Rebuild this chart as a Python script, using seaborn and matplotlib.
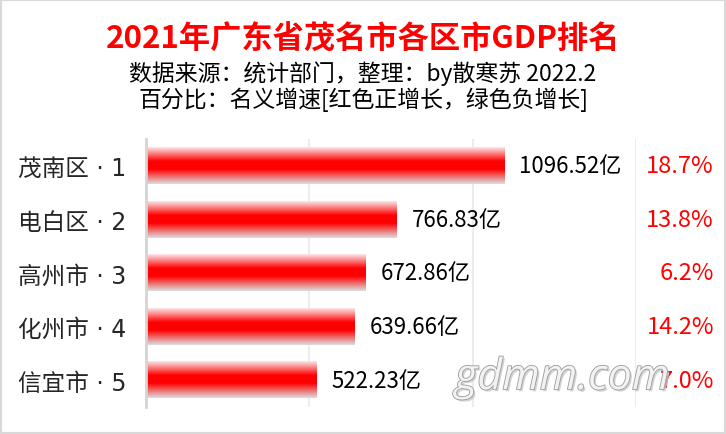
import numpy as np
import pandas as pd
import matplotlib
matplotlib.use('Agg')
import matplotlib.pyplot as plt
import matplotlib.patheffects as pe
from matplotlib.colors import LinearSegmentedColormap
from matplotlib.patches import Rectangle
import seaborn as sns

# data
regions = ['茂南区', '电白区', '高州市', '化州市', '信宜市']
ranks = [1, 2, 3, 4, 5]
gdp = [1096.52, 766.83, 672.86, 639.66, 522.23]
growth = [18.7, 13.8, 6.2, 14.2, 7.0]

title = '2021年广东省茂名市各区市GDP排名'
sub1 = '数据来源：统计部门，整理：by散寒苏 2022.2'
sub2 = '百分比：名义增速[红色正增长，绿色负增长]'

sns.set_style('white')
plt.rcParams['font.family'] = ['Noto Sans CJK SC', 'DejaVu Sans']

df = pd.DataFrame({'name': [f'{r} · {k}' for r, k in zip(regions, ranks)], 'gdp': gdp})

fig = plt.figure(figsize=(7.26, 4.35), dpi=100)
ax = fig.add_axes([146 / 726, 27 / 435, 490 / 726, 268 / 435])
sns.barplot(data=df, x='gdp', y='name', orient='h', width=0.68, color='red', ax=ax, zorder=2)

# vertical gradient on each bar: pink top, red core, greyish bottom
cmap = LinearSegmentedColormap.from_list('bar', [(0, '#fce4e6'), (0.38, '#ff0000'),
                                                 (0.6, '#ff0000'), (1, '#dcdcdc')])
grad = np.linspace(0, 1, 64).reshape(-1, 1)
for p in ax.patches:
    x0, y0, w, h = p.get_x(), p.get_y(), p.get_width(), p.get_height()
    p.set_visible(False)
    ax.imshow(grad, cmap=cmap, aspect='auto', origin='upper', interpolation='bilinear',
              extent=(x0, x0 + w, y0 + h, y0), zorder=2)

ax.set_xlim(0, 1500)
ax.set_ylim(4.5, -0.5)
ax.set_xticks([0, 500, 1000, 1500])
ax.set_xticklabels([])
ax.grid(axis='x', color='#ececec', lw=1.5, zorder=0)
ax.set_xlabel('')
ax.set_ylabel('')
ax.tick_params(axis='y', length=0, pad=14, labelsize=17)
for lab in ax.get_yticklabels():
    lab.set_family(['DejaVu Sans', 'Noto Sans CJK SC'])
for s in ['top', 'right', 'bottom']:
    ax.spines[s].set_visible(False)
ax.spines['left'].set_color('#d4d4d4')
ax.spines['left'].set_linewidth(2)

for i, v in enumerate(gdp):
    ax.annotate(f'{v:.2f}亿', (v, i), xytext=(11, 0), textcoords='offset points',
                ha='left', va='center', fontsize=16, color='black')

# watermark
fig.text(455 / 726, 0.103, 'gdmm.com', family='Open Sans', style='italic', fontsize=31,
         color='#f2f2f2', zorder=5,
         path_effects=[pe.withSimplePatchShadow(offset=(1.5, -1.5), shadow_rgbFace='#c8c8c8', alpha=0.8),
                       pe.Stroke(linewidth=1.2, foreground='#9a9a9a'), pe.Normal()])

trans = matplotlib.transforms.blended_transform_factory(fig.transFigure, ax.transData)
for i, g in enumerate(growth):
    ax.text(714 / 726, i, f'{g:.1f}%', transform=trans, ha='right', va='center',
            fontsize=17, color='red' if g >= 0 else 'green', zorder=10)

fig.text(0.5, 0.908, title, ha='center', va='center', fontsize=22.5, fontweight='bold', color='red')
fig.text(0.5, 0.830, sub1, ha='center', va='center', fontsize=16.5, color='black')
fig.text(0.5, 0.770, sub2, ha='center', va='center', fontsize=16.5, color='black')

fig.patches.append(Rectangle((0, 0), 1, 1, transform=fig.transFigure, fill=False,
                             edgecolor='#d9d9d9', lw=3, zorder=20))

fig.savefig('out.png', dpi=100)
